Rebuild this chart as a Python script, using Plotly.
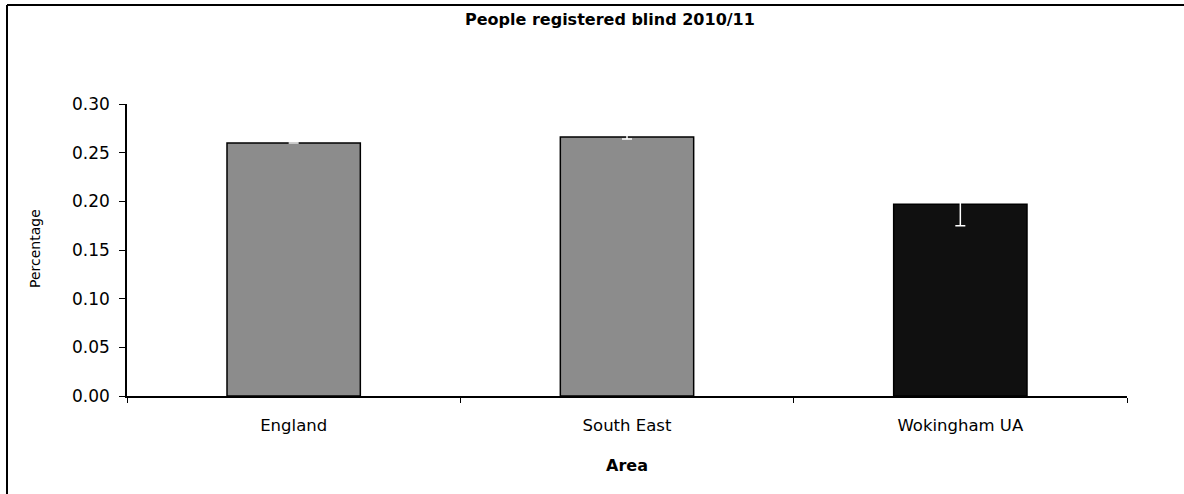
import plotly.graph_objects as go

# Data
areas = ["England", "South East", "Wokingham UA"]
pct_blind = [0.260, 0.266, 0.197]
ci_plus = [0.0, 0.002, 0.022]
ci_minus = [0.0, 0.002, 0.022]
bar_colors = ["#8c8c8c", "#8c8c8c", "#101010"]
y_ticks = [0.00, 0.05, 0.10, 0.15, 0.20, 0.25, 0.30]

W, H = 1184, 494
L, R, T, B = 127, 57, 104, 98
pw, ph = W - L - R, H - T - B


def px_x(x):
    return (x - L) / pw


def px_y(y):
    return (H - B - y) / ph


fig = go.Figure()
fig.add_trace(go.Bar(
    x=areas,
    y=pct_blind,
    marker=dict(color=bar_colors, line=dict(color="#000000", width=1.5)),
    error_y=dict(type="data", array=ci_plus, arrayminus=ci_minus, symmetric=False,
                 color="#ffffff", thickness=1.5, width=5),
    width=0.4,
))

font = "DejaVu Sans, Arial, sans-serif"

fig.update_layout(
    width=W, height=H,
    margin=dict(l=L, r=R, t=T, b=B),
    paper_bgcolor="#ffffff",
    plot_bgcolor="#ffffff",
    showlegend=False,
    font=dict(family=font, color="#000000"),
    xaxis=dict(
        showline=True, linecolor="#000000", linewidth=1.5,
        ticks="outside", tickson="boundaries", ticklen=5, tickcolor="#000000",
        tickfont=dict(size=16.5), showgrid=False, zeroline=False,
        range=[-0.5, 2.5], ticklabelstandoff=13,
    ),
    yaxis=dict(
        range=[0, 0.30], tickvals=y_ticks, tickformat=".2f",
        showline=True, linecolor="#000000", linewidth=1.5,
        ticks="outside", ticklen=6, tickcolor="#000000",
        tickfont=dict(size=17), showgrid=False, zeroline=False,
        ticklabelstandoff=6,
    ),
    annotations=[
        dict(text="<b>People registered blind 2010/11</b>", x=px_x(610), y=px_y(20),
             xref="paper", yref="paper", showarrow=False, font=dict(size=16),
             xanchor="center", yanchor="middle"),
        dict(text="<b>Area</b>", x=px_x(627), y=px_y(465),
             xref="paper", yref="paper", showarrow=False, font=dict(size=16),
             xanchor="center", yanchor="middle"),
        dict(text="Percentage", x=px_x(35), y=px_y(249), textangle=-90,
             xref="paper", yref="paper", showarrow=False, font=dict(size=14),
             xanchor="center", yanchor="middle"),
    ],
    shapes=[
        dict(type="line", xref="paper", yref="paper",
             x0=px_x(7), x1=px_x(W), y0=px_y(5), y1=px_y(5),
             line=dict(color="#000000", width=2)),
        dict(type="line", xref="paper", yref="paper",
             x0=px_x(7), x1=px_x(7), y0=px_y(5), y1=px_y(H),
             line=dict(color="#000000", width=2)),
    ],
)

fig.write_html("out.html")
